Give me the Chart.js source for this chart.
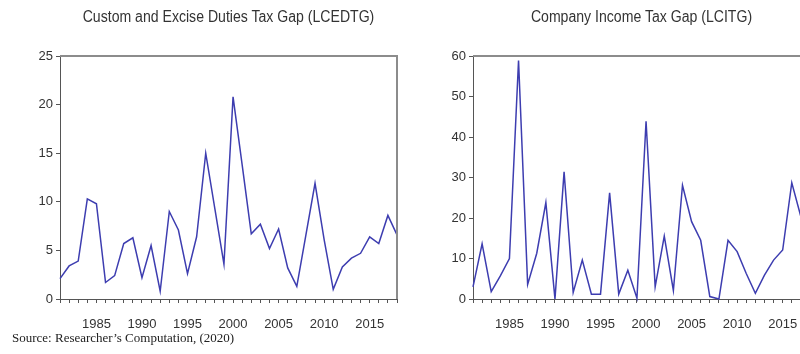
<!DOCTYPE html>
<html>
<head>
<meta charset="utf-8">
<script src="https://cdn.jsdelivr.net/npm/chart.js@4/dist/chart.umd.min.js"></script>
<style>
  html, body { margin: 0; padding: 0; background: #fff; }
  body { position: relative; width: 800px; height: 354px; overflow: hidden; }
  .panel { position: absolute; top: 0; }
  .title {
    position: absolute; top: 8px; text-align: center; white-space: nowrap;
    font-family: 'Liberation Sans', Arial, sans-serif;
    font-size: 16px; color: #333;
    transform: scaleX(0.88); transform-origin: center;
  }
  #source {
    position: absolute; left: 12px; top: 330px;
    font-family: 'Liberation Serif', 'Times New Roman', serif;
    font-size: 13px; color: #222; white-space: nowrap;
  }
</style>
</head>
<body>
<div class="panel" style="left:0px"><canvas id="left" width="400" height="340"></canvas></div>
<div class="panel" style="left:400px"><canvas id="right" width="420" height="340"></canvas></div>
<div class="title" style="left:60px;width:337px">Custom and Excise Duties Tax Gap (LCEDTG)</div>
<div class="title" style="left:473px;width:337px">Company Income Tax Gap (LCITG)</div>
<div id="source">Source: Researcher’s Computation, (2020)</div>

<script>
// Annual observations, 1981-2018
const years = [1981, 1982, 1983, 1984, 1985, 1986, 1987, 1988, 1989, 1990,
               1991, 1992, 1993, 1994, 1995, 1996, 1997, 1998, 1999, 2000,
               2001, 2002, 2003, 2004, 2005, 2006, 2007, 2008, 2009, 2010,
               2011, 2012, 2013, 2014, 2015, 2016, 2017, 2018];

// Custom and Excise Duties Tax Gap
const lcedtg = [2.1, 3.4, 3.9, 10.3, 9.8, 1.7, 2.4, 5.7, 6.3, 2.2,
                5.5, 0.8, 9.0, 7.1, 2.6, 6.4, 15.0, 9.3, 3.6, 20.8,
                13.8, 6.7, 7.7, 5.2, 7.2, 3.2, 1.3, 6.6, 11.9, 6.1,
                1.0, 3.3, 4.2, 4.7, 6.4, 5.7, 8.6, 6.6];

// Company Income Tax Gap
const lcitg = [3.0, 13.6, 1.8, 5.7, 10.0, 58.9, 3.6, 11.3, 23.8, 0.0,
               31.4, 1.6, 9.6, 1.2, 1.2, 26.2, 1.2, 7.1, 0.2, 43.9,
               3.0, 15.5, 2.1, 28.1, 19.1, 14.5, 0.6, 0.0, 14.5, 11.7,
               6.3, 1.4, 5.9, 9.6, 12.1, 28.7, 20.3, 14.0];

// Axis tick settings
const yTicksLeft = [0, 5, 10, 15, 20, 25];
const yTicksRight = [0, 10, 20, 30, 40, 50, 60];
const labelEvery = 5;

const LINE = '#3d3db0';
const AXIS = '#555';
const FRAME = '#8c8c8c';
const TXT = '#333';
const sans = "'Liberation Sans', Arial, sans-serif";

// grey frame on the top and right of the plot area
const framePlugin = {
  id: 'frame',
  afterDraw(chart) {
    const { ctx, chartArea: a } = chart;
    ctx.save();
    ctx.strokeStyle = FRAME;
    ctx.lineWidth = 2;
    ctx.beginPath();
    ctx.moveTo(a.left, a.top);
    ctx.lineTo(a.right, a.top);
    ctx.lineTo(a.right, a.bottom);
    ctx.stroke();
    ctx.restore();
  }
};

function makeChart(id, values, yTicks, axisWidth, padRight) {
  const points = years.map((yr, i) => ({ x: yr, y: values[i] }));
  const yMax = yTicks[yTicks.length - 1];
  const yStep = yTicks[1] - yTicks[0];
  return new Chart(document.getElementById(id), {
    type: 'line',
    data: {
      datasets: [{
        data: points,
        borderColor: LINE,
        borderWidth: 1.5,
        pointRadius: 0,
        tension: 0,
        fill: false,
        clip: false
      }]
    },
    options: {
      responsive: false,
      animation: false,
      devicePixelRatio: 1,
      layout: { padding: { top: 56, right: padRight, left: 0, bottom: 0 } },
      plugins: { legend: { display: false }, tooltip: { enabled: false }, title: { display: false } },
      scales: {
        x: {
          type: 'linear',
          min: years[0],
          max: years[years.length - 1],
          afterFit(scale) { scale.height = 41; },
          grid: { display: true, drawOnChartArea: false, drawTicks: true, tickLength: 4, color: AXIS },
          border: { display: true, color: AXIS, width: 1 },
          ticks: {
            stepSize: 1,
            autoSkip: false,
            maxRotation: 0,
            minRotation: 0,
            padding: 2,
            color: TXT,
            font: { family: sans, size: 13, lineHeight: 1.0 },
            // labelled every fifth year, set one line below the axis
            callback: (v) => (v % labelEvery === 0 ? ['', String(v)] : '')
          }
        },
        y: {
          min: yTicks[0],
          max: yMax,
          afterFit(scale) { scale.width = axisWidth; },
          grid: { display: true, drawOnChartArea: false, drawTicks: true, tickLength: 4, color: AXIS },
          border: { display: true, color: AXIS, width: 1 },
          ticks: {
            stepSize: yStep,
            padding: 3,
            color: TXT,
            font: { family: sans, size: 13 }
          }
        }
      }
    },
    plugins: [framePlugin]
  });
}

makeChart('left', lcedtg, yTicksLeft, 60, 3);
makeChart('right', lcitg, yTicksRight, 73, 10);
</script>
</body>
</html>
